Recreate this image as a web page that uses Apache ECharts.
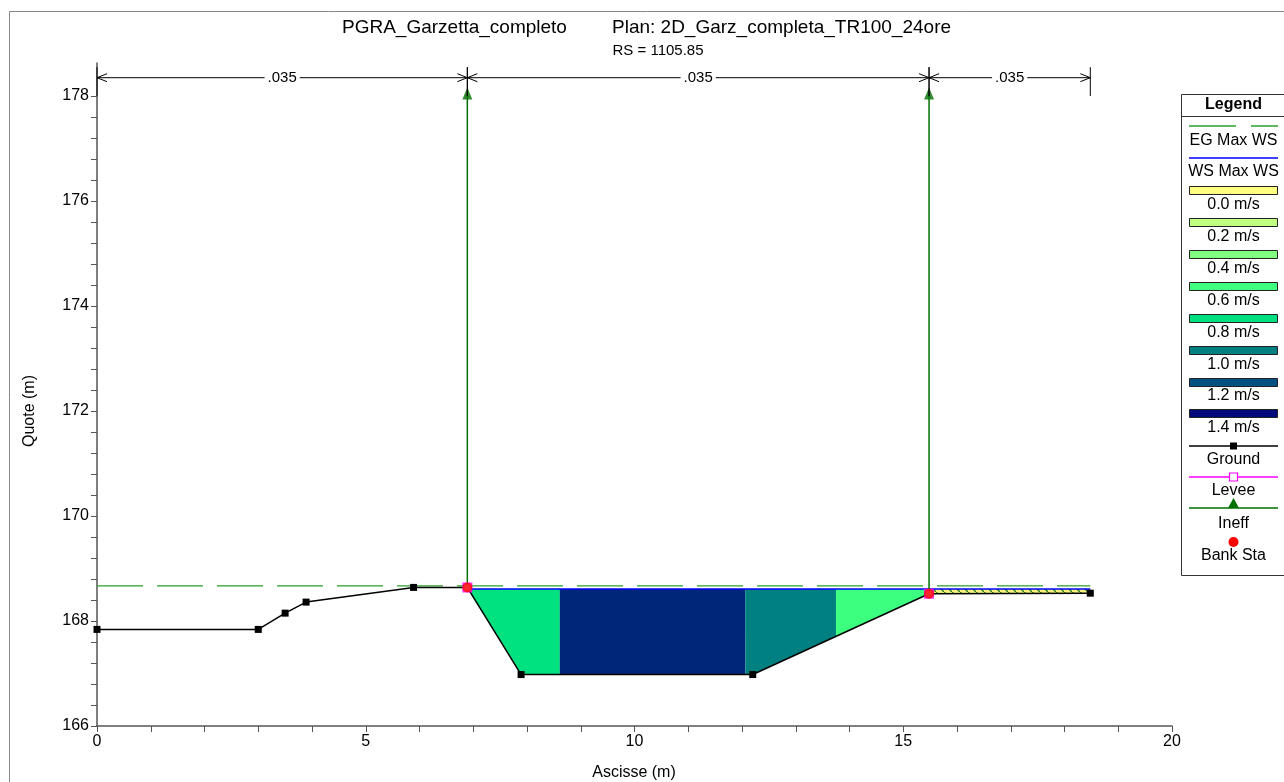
<!DOCTYPE html>
<html><head><meta charset="utf-8">
<script src="https://cdn.jsdelivr.net/npm/echarts@6/dist/echarts.min.js"></script>
<style>html,body{margin:0;padding:0;background:#fff}#c{width:1284px;height:782px}</style>
</head><body><div id="c"></div>
<script>
// ---- data ----
const groundX = [0, 3.0, 3.5, 3.89, 5.89, 6.89, 7.89, 12.2, 15.48, 18.48];
const groundY = [167.84, 167.84, 168.15, 168.36, 168.64, 168.64, 166.98, 166.98, 168.52, 168.53];
const bankSta = [6.89, 15.48];
const wsElev = 168.61;
const egElev = 168.67;
const wsRange = [6.89, 18.48];
const egRange = [0, 18.48];
const ineffElev = 178.05;
const stripStart = [6.89, 8.61, 12.06, 13.75, 15.48];
const stripEnd   = [8.61, 12.06, 13.75, 15.48, 18.48];
const stripColor = ['#00E27F', '#00267A', '#008080', '#3CFF80', 'hatch'];
const nStart = [0, 6.89, 15.48];
const nEnd   = [6.89, 15.48, 18.48];
const nLabel = ['.035', '.035', '.035'];
const xTickLabels = [0, 5, 10, 15, 20];
const yTickLabels = [166, 168, 170, 172, 174, 176, 178];
const velLabels = ['0.0 m/s','0.2 m/s','0.4 m/s','0.6 m/s','0.8 m/s','1.0 m/s','1.2 m/s','1.4 m/s'];
const velColors = ['#FFFF80','#C0FF80','#80FF80','#40FF80','#00E080','#008080','#005080','#000A7A'];

// ---- style constants ----
const FONT = '"Liberation Sans", Arial, Helvetica, sans-serif';
const EG_COLOR = '#2A9F2A';
const INEFF_COLOR = '#007000';
const N_ROW = 178.35, N_TOP = 178.55, N_BOT = 178.0;

function groundAt(x) {
  for (let k = 0; k < groundX.length - 1; k++) {
    if (x >= groundX[k] && x <= groundX[k + 1]) {
      const t = (x - groundX[k]) / (groundX[k + 1] - groundX[k]);
      return groundY[k] + t * (groundY[k + 1] - groundY[k]);
    }
  }
  return groundY[groundY.length - 1];
}

// hatch pattern for the shallow strip
const hc = document.createElement('canvas');
hc.width = 8; hc.height = 8;
const hx = hc.getContext('2d');
hx.fillStyle = '#F5F07A'; hx.fillRect(0, 0, 8, 8);
hx.strokeStyle = '#1E7A1E'; hx.lineWidth = 1.3;
hx.beginPath(); hx.moveTo(0, 0); hx.lineTo(8, 8); hx.stroke();
const hatchFill = { image: hc, repeat: 'repeat' };

const stripData = stripStart.map((s, i) => [s, stripEnd[i], i]);
const nData = nStart.map((s, i) => [s, nEnd[i], i]);
const groundData = groundX.map((x, i) => [x, groundY[i]]);
const bankData = bankSta.map(x => [x, groundAt(x)]);
const ineffLine = [];
bankSta.forEach((x, i) => { if (i) ineffLine.push('-'); ineffLine.push([x, groundAt(x)], [x, ineffElev]); });
const ineffTop = bankSta.map(x => [x, ineffElev]);

const yMinor = []; for (let v = 166; v <= 178.001; v += 0.4) yMinor.push(+v.toFixed(1));
const xMinor = []; for (let v = 0; v <= 20; v += 1) xMinor.push(v);

// ---- legend (graphic) ----
const LX0 = 1189, LX1 = 1278, LCX = 1233.5;
const legendItems = [
  { kind: 'dash', color: EG_COLOR, label: 'EG Max WS' },
  { kind: 'line', color: '#0000FF', label: 'WS Max WS' }
].concat(velLabels.map((l, i) => ({ kind: 'rect', color: velColors[i], label: l })))
 .concat([
  { kind: 'sym', color: '#000000', sym: 'sq', label: 'Ground' },
  { kind: 'sym', color: '#FF00FF', sym: 'esq', label: 'Levee' },
  { kind: 'sym', color: INEFF_COLOR, sym: 'tri', label: 'Ineff' },
  { kind: 'dot', color: '#FF0000', label: 'Bank Sta' }
]);
const symY = [126, 158, 190, 222, 254, 286, 318, 350, 382, 413, 446, 477, 508, 542];
const txtY = [141, 172, 205, 237, 269, 301, 333, 365, 396, 428, 460, 491, 524, 556];
const legendG = [
  { type: 'rect', shape: { x: 1181.5, y: 94.5, width: 120, height: 481 }, style: { fill: '#fff', stroke: '#333', lineWidth: 1 }, z: 10 },
  { type: 'line', shape: { x1: 1181.5, y1: 116.5, x2: 1284, y2: 116.5 }, style: { stroke: '#333', lineWidth: 1 }, z: 11 },
  { type: 'text', x: LCX, y: 105, style: { text: 'Legend', font: 'bold 16px ' + FONT, fill: '#000', align: 'center', verticalAlign: 'middle' }, z: 11 }
];
legendItems.forEach((it, i) => {
  const y = symY[i];
  if (it.kind === 'dash') {
    legendG.push({ type: 'line', shape: { x1: LX0, y1: y, x2: 1236, y2: y }, style: { stroke: it.color, lineWidth: 1.5 }, z: 11 });
    legendG.push({ type: 'line', shape: { x1: 1251, y1: y, x2: LX1, y2: y }, style: { stroke: it.color, lineWidth: 1.5 }, z: 11 });
  } else if (it.kind === 'line') {
    legendG.push({ type: 'line', shape: { x1: LX0, y1: y, x2: LX1, y2: y }, style: { stroke: it.color, lineWidth: 1.5 }, z: 11 });
  } else if (it.kind === 'rect') {
    legendG.push({ type: 'rect', shape: { x: LX0 + 0.5, y: y - 3.5, width: LX1 - LX0 - 1, height: 8 }, style: { fill: it.color, stroke: '#222', lineWidth: 1 }, z: 11 });
  } else if (it.kind === 'sym') {
    legendG.push({ type: 'line', shape: { x1: LX0, y1: y, x2: LX1, y2: y }, style: { stroke: it.color, lineWidth: 1.5 }, z: 11 });
    if (it.sym === 'sq') legendG.push({ type: 'rect', shape: { x: LCX - 3.5, y: y - 3.5, width: 7, height: 7 }, style: { fill: '#000' }, z: 12 });
    if (it.sym === 'esq') legendG.push({ type: 'rect', shape: { x: LCX - 4, y: y - 4, width: 8, height: 8 }, style: { fill: '#fff', stroke: it.color, lineWidth: 1.2 }, z: 12 });
    if (it.sym === 'tri') legendG.push({ type: 'polygon', shape: { points: [[LCX, y - 10], [LCX - 5.5, y], [LCX + 5.5, y]] }, style: { fill: it.color }, z: 12 });
  } else if (it.kind === 'dot') {
    legendG.push({ type: 'circle', shape: { cx: LCX, cy: y, r: 5 }, style: { fill: it.color }, z: 12 });
  }
  legendG.push({ type: 'text', x: LCX, y: txtY[i], style: { text: it.label, font: '16px ' + FONT, fill: '#000', align: 'center', verticalAlign: 'middle' }, z: 12 });
});

const chart = echarts.init(document.getElementById('c'), null, { renderer: 'canvas' });
chart.setOption({
  animation: false,
  backgroundColor: '#fff',
  textStyle: { fontFamily: FONT },
  grid: { left: 97, right: 112, top: 63, bottom: 56, containLabel: false },
  xAxis: {
    type: 'value', min: 0, max: 20, interval: 5,
    axisLine: { lineStyle: { color: '#555', width: 1.5 } },
    axisTick: { show: true, length: 6, customValues: xMinor, lineStyle: { color: '#555' } },
    axisLabel: { customValues: xTickLabels, color: '#000', fontSize: 16, fontFamily: FONT, margin: 8 },
    splitLine: { show: false }
  },
  yAxis: {
    type: 'value', min: 166, max: 178.63,
    axisLine: { show: true, lineStyle: { color: '#555', width: 1.5 } },
    axisTick: { show: true, length: 6, customValues: yMinor, lineStyle: { color: '#555' } },
    axisLabel: { customValues: yTickLabels, color: '#000', fontSize: 16, fontFamily: FONT, margin: 8 },
    splitLine: { show: false }
  },
  graphic: [
    { type: 'rect', shape: { x: 9.5, y: 11.5, width: 1400, height: 1000 }, style: { fill: 'none', stroke: '#888', lineWidth: 1 }, z: -10, silent: true },
    { type: 'text', x: 342, y: 28, style: { text: 'PGRA_Garzetta_completo', font: '19px ' + FONT, fill: '#000', verticalAlign: 'middle' } },
    { type: 'text', x: 612, y: 28, style: { text: 'Plan: 2D_Garz_completa_TR100_24ore', font: '19px ' + FONT, fill: '#000', verticalAlign: 'middle' } },
    { type: 'text', x: 658, y: 51, style: { text: 'RS = 1105.85', font: '15px ' + FONT, fill: '#000', align: 'center', verticalAlign: 'middle' } },
    { type: 'text', x: 30, y: 411, rotation: Math.PI / 2, style: { text: 'Quote (m)', font: '16px ' + FONT, fill: '#000', align: 'center', verticalAlign: 'middle' } },
    { type: 'text', x: 634, y: 773, style: { text: 'Ascisse (m)', font: '16px ' + FONT, fill: '#000', align: 'center', verticalAlign: 'middle' } }
  ].concat(legendG),
  series: [
    {
      type: 'custom', name: 'velocity', z: 1,
      data: stripData, encode: { x: [0, 1] },
      renderItem: (params, api) => {
        const x0 = api.value(0), x1 = api.value(1), i = api.value(2);
        const pts = [[x0, wsElev], [x1, wsElev], [x1, Math.min(groundAt(x1), wsElev)]];
        for (let k = groundX.length - 1; k >= 0; k--) {
          if (groundX[k] > x0 && groundX[k] < x1) pts.push([groundX[k], Math.min(groundY[k], wsElev)]);
        }
        pts.push([x0, Math.min(groundAt(x0), wsElev)]);
        const fill = stripColor[i] === 'hatch' ? hatchFill : stripColor[i];
        return { type: 'polygon', shape: { points: pts.map(p => api.coord(p)) }, style: { fill: fill } };
      }
    },
    {
      type: 'line', name: 'EG Max WS', z: 3, symbol: 'none',
      data: egRange.map(x => [x, egElev]),
      lineStyle: { color: EG_COLOR, width: 1.3, type: [46, 14] }
    },
    {
      type: 'line', name: 'WS Max WS', z: 3, symbol: 'none',
      data: wsRange.map(x => [x, wsElev]),
      lineStyle: { color: '#0000FF', width: 1.5 }
    },
    {
      type: 'line', name: 'Ineff', z: 4, symbol: 'none', connectNulls: false,
      data: ineffLine,
      lineStyle: { color: INEFF_COLOR, width: 1.5 }
    },
    {
      type: 'scatter', name: 'IneffTop', z: 4, symbol: 'triangle', symbolSize: [10, 12],
      data: ineffTop, itemStyle: { color: INEFF_COLOR }
    },
    {
      type: 'line', name: 'Ground', z: 5,
      data: groundData, symbol: 'rect', symbolSize: 7, showAllSymbol: true,
      lineStyle: { color: '#000', width: 1.5 }, itemStyle: { color: '#000' }
    },
    {
      type: 'scatter', name: 'Levee', z: 6, symbol: 'emptyRect', symbolSize: 8,
      data: bankData, itemStyle: { color: '#FF00FF', borderWidth: 1 }
    },
    {
      type: 'scatter', name: 'Bank Sta', z: 7, symbol: 'circle', symbolSize: 10,
      data: bankData, itemStyle: { color: '#FF0000' }
    },
    {
      type: 'custom', name: 'n', z: 8, clip: false,
      data: nData, encode: { x: [0, 1] },
      renderItem: (params, api) => {
        const x0 = api.value(0), x1 = api.value(1), i = api.value(2);
        const p0 = api.coord([x0, N_ROW]), p1 = api.coord([x1, N_ROW]);
        const yT = api.coord([x0, N_TOP])[1], yB = api.coord([x0, N_BOT])[1];
        const y = p0[1], ah = 10, aw = 4;
        const st = { stroke: '#000', lineWidth: 1, fill: 'none' };
        return {
          type: 'group', children: [
            { type: 'line', shape: { x1: p0[0], y1: y, x2: p1[0], y2: y }, style: st },
            { type: 'polyline', shape: { points: [[p0[0] + ah, y - aw], [p0[0], y], [p0[0] + ah, y + aw]] }, style: st },
            { type: 'polyline', shape: { points: [[p1[0] - ah, y - aw], [p1[0], y], [p1[0] - ah, y + aw]] }, style: st },
            { type: 'line', shape: { x1: p0[0], y1: yT, x2: p0[0], y2: yB }, style: st },
            { type: 'line', shape: { x1: p1[0], y1: yT, x2: p1[0], y2: yB }, style: st },
            { type: 'text', x: (p0[0] + p1[0]) / 2, y: y, style: { text: nLabel[i], font: '15px ' + FONT, fill: '#000', align: 'center', verticalAlign: 'middle', backgroundColor: '#fff', padding: [0, 3] } }
          ]
        };
      }
    }
  ]
});
</script>
</body></html>
